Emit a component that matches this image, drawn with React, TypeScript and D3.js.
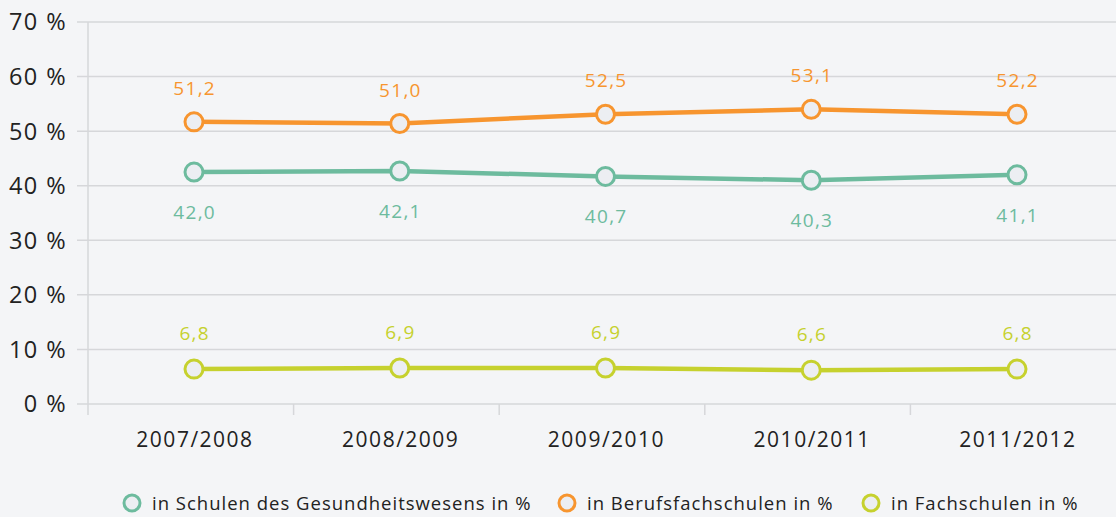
import React from "react";
import * as d3 from "d3";

const categories = ["2007/2008", "2008/2009", "2009/2010", "2010/2011", "2011/2012"];
const yTicks = [0, 10, 20, 30, 40, 50, 60, 70];

// plotted positions
const gesundheitValues = [42.5, 42.7, 41.7, 41.0, 42.0];
const berufsValues = [51.7, 51.4, 53.1, 54.0, 53.1];
const fachValues = [6.4, 6.6, 6.6, 6.2, 6.4];

// printed data labels
const gesundheitLabels = ["42,0", "42,1", "40,7", "40,3", "41,1"];
const berufsLabels = ["51,2", "51,0", "52,5", "53,1", "52,2"];
const fachLabels = ["6,8", "6,9", "6,9", "6,6", "6,8"];

const seriesNames = [
  "in Schulen des Gesundheitswesens in %",
  "in Berufsfachschulen in %",
  "in Fachschulen in %",
];
const seriesColors = ["#6dbb9e", "#f7952f", "#c6d12e"];

const W = 1116;
const H = 517;
const FONT = "'Open Sans', sans-serif";

export default function App() {
  const xBand = d3.scaleBand<string>().domain(categories).range([88, 1116]);
  const x = d3.scalePoint<string>().domain(categories).range([194, 1017]);
  const y = d3.scaleLinear().domain([0, 70]).range([404, 22]);
  const line = d3
    .line<number>()
    .x((_, i) => x(categories[i]) as number)
    .y((d) => y(d));

  const series = [
    { values: gesundheitValues, labels: gesundheitLabels, color: seriesColors[0], dy: 47 },
    { values: berufsValues, labels: berufsLabels, color: seriesColors[1], dy: -27 },
    { values: fachValues, labels: fachLabels, color: seriesColors[2], dy: -29 },
  ];

  const legendX = [132, 567, 871];

  return (
    <svg
      width={W}
      height={H}
      style={{ position: "absolute", left: 0, top: 0, display: "block" }}
      fontFamily={FONT}
    >
      <rect x={0} y={0} width={W} height={H} fill="#f4f5f7" />
      {yTicks.map((t) => (
        <g key={t}>
          <line x1={77} x2={W} y1={y(t)} y2={y(t)} stroke="#d6d7da" strokeWidth={1.5} />
          <text
            x={67}
            y={y(t)}
            dy="0.36em"
            textAnchor="end"
            fontSize={23.5}
            letterSpacing={1.4}
            fill="#222"
          >
            {t} %
          </text>
        </g>
      ))}
      <line x1={88} x2={88} y1={22} y2={415} stroke="#d6d7da" strokeWidth={1.5} />
      {categories.map((c, i) => (
        <g key={c}>
          {i > 0 && (
            <line
              x1={xBand(c) as number}
              x2={xBand(c) as number}
              y1={404}
              y2={415}
              stroke="#d6d7da"
              strokeWidth={1.5}
            />
          )}
          <text
            x={(x(c) as number) + 1}
            y={439}
            dy="0.36em"
            textAnchor="middle"
            fontSize={21}
            letterSpacing={1.5}
            fill="#222"
          >
            {c}
          </text>
        </g>
      ))}
      {series.map((s, si) => (
        <g key={si}>
          <path d={line(s.values) as string} fill="none" stroke={s.color} strokeWidth={4.5} />
          {s.values.map((v, i) => {
            const cx = x(categories[i]) as number;
            return (
              <g key={i}>
                <circle cx={cx} cy={y(v)} r={9} fill="#eceef2" stroke={s.color} strokeWidth={3} />
                <text
                  x={cx + 0.7}
                  y={y(v) + s.dy}
                  textAnchor="middle"
                  fontSize={19}
                  letterSpacing={1.3}
                  fill={s.color}
                >
                  {s.labels[i]}
                </text>
              </g>
            );
          })}
        </g>
      ))}
      {seriesNames.map((n, i) => (
        <g key={n}>
          <circle cx={legendX[i]} cy={503} r={8} fill="#eceef2" stroke={seriesColors[i]} strokeWidth={3} />
          <text
            x={legendX[i] + 20}
            y={503}
            dy="0.36em"
            fontSize={18.5}
            letterSpacing={1}
            fill="#222"
          >
            {n}
          </text>
        </g>
      ))}
    </svg>
  );
}
